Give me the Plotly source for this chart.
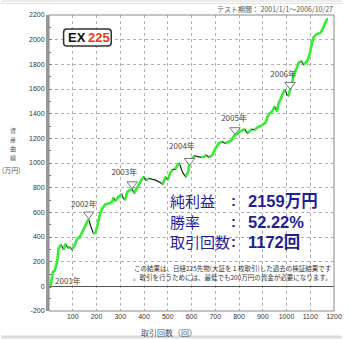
import plotly.graph_objects as go

# ---- data ----
trade_no = [0, 6, 10, 16, 24, 34, 38, 40, 51, 61, 70, 79, 88, 97, 108, 119, 129, 138, 146, 157,
            167, 177, 187, 197, 204, 215, 224, 238, 252, 265, 272, 279, 292, 306, 313, 320, 330,
            340, 350, 358, 367, 377, 388, 399, 408, 422, 436, 449, 463, 477, 483, 490, 500, 510,
            521, 531, 541, 549, 558, 565, 576, 586, 592, 603, 613, 627, 640, 654, 661, 674, 688,
            701, 715, 729, 742, 756, 767, 776, 783, 794, 804, 817, 824, 835, 845, 854, 865, 879,
            892, 906, 913, 919, 930, 940, 950, 960, 967, 977, 988, 995, 1001, 1008, 1015, 1022,
            1031, 1042, 1053, 1063, 1072, 1081, 1090, 1099, 1107, 1113, 1124, 1135, 1144, 1151,
            1162, 1172]
equity = [0, -8, 41, 114, 128, 196, 264, 305, 340, 297, 345, 313, 318, 297, 332, 386, 399, 432, 459, 508,
          545, 481, 427, 440, 494, 590, 630, 666, 671, 684, 720, 690, 725, 747, 712, 700, 766,
          780, 790, 753, 780, 820, 861, 888, 861, 875, 867, 861, 847, 829, 847, 888, 861, 916,
          948, 948, 983, 997, 948, 916, 888, 929, 997, 1038, 1057, 1051, 1046, 1051, 1065, 1046, 1065,
          1119, 1160, 1173, 1160, 1173, 1181, 1209, 1228, 1236, 1255, 1268, 1274, 1241, 1263, 1274, 1268, 1290,
          1301, 1323, 1328, 1372, 1404, 1418, 1458, 1418, 1486, 1527, 1580, 1594, 1554, 1545, 1590, 1640,
          1717, 1771, 1817, 1825, 1798, 1812, 1839, 1893, 1975, 2015, 2042, 2050, 2056, 2083,
          2138, 2172]

year_labels = ["2001年", "2002年", "2003年", "2004年", "2005年", "2006年"]
year_mark_x = [167, 350, 592, 783, 1015]
year_mark_y = [584, 829, 1018, 1268, 1635]
year_label_x = [80, 147, 317, 560, 779, 986]
year_label_y = [34, 663, 916, 1128, 1358, 1717]

x_ticks = [100, 200, 300, 400, 500, 600, 700, 800, 900, 1000, 1100, 1200]
y_ticks = [-200, 0, 200, 400, 600, 800, 1000, 1200, 1400, 1600, 1800, 2000, 2200]

stat_labels = ["純利益", "勝率", "取引回数"]
stat_values = ["2159万円", "52.22%", "1172回"]
y_title_chars = ["資", "産", "曲", "線"]

# ---- layout geometry (pixels) ----
W, H = 350, 339
L, R, T, B = 49, 342, 15, 311


def px(xp):
    return (xp - L) / (R - L)


def py(yp):
    return (B - yp) / (B - T)


fig = go.Figure()

# black equity line
fig.add_trace(go.Scatter(x=trade_no, y=equity, mode="lines",
                         line=dict(color="#222222", width=1.2), hoverinfo="skip"))

# green highlight on rising segments
gx, gy = [], []
for i in range(len(trade_no) - 1):
    if equity[i + 1] > equity[i]:
        if gx and gx[-1] == trade_no[i]:
            gx.append(trade_no[i + 1]); gy.append(equity[i + 1])
        else:
            if gx:
                gx.append(None); gy.append(None)
            gx += [trade_no[i], trade_no[i + 1]]
            gy += [equity[i], equity[i + 1]]
fig.add_trace(go.Scatter(x=gx, y=gy, mode="lines", connectgaps=False,
                         line=dict(color="#33ee33", width=2.6), hoverinfo="skip"))

# year triangles
fig.add_trace(go.Scatter(x=year_mark_x, y=year_mark_y, mode="markers",
                         marker=dict(symbol="triangle-down", size=9, color="white",
                                     line=dict(color="#777777", width=1)),
                         hoverinfo="skip"))
# year labels
fig.add_trace(go.Scatter(x=year_label_x, y=year_label_y, mode="text", text=year_labels,
                         textfont=dict(family="Noto Sans CJK JP", size=8, color="#444444"),
                         hoverinfo="skip"))

fig.update_xaxes(range=[0, 1200], tickvals=x_ticks, ticktext=[str(v) for v in x_ticks],
                 showgrid=True, gridcolor="#b0b0b0", griddash="dot", gridwidth=1,
                 zeroline=False, showline=False, ticks="",
                 tickfont=dict(family="Liberation Sans", size=7, color="#333333"))
fig.update_yaxes(range=[-200, 2200], tickvals=y_ticks, ticktext=[str(v) for v in y_ticks],
                 showgrid=True, gridcolor="#b0b0b0", griddash="dot", gridwidth=1,
                 zeroline=True, zerolinecolor="#555555", zerolinewidth=1,
                 showline=True, linecolor="#999999", linewidth=3,
                 ticks="inside", ticklen=3, tickcolor="#777777",
                 minor=dict(dtick=100, ticks="inside", ticklen=2, tickcolor="#777777"),
                 tickfont=dict(family="Liberation Sans", size=7, color="#333333"))

shapes = [
    dict(type="rect", xref="paper", yref="paper", x0=0, x1=1, y0=0, y1=1,
         line=dict(color="#888888", width=1), layer="above"),
    dict(type="line", xref="paper", yref="paper", x0=px(0), x1=px(W), y0=py(1), y1=py(1),
         line=dict(color="#d8d8d8", width=1)),
    dict(type="line", xref="paper", yref="paper", x0=px(0), x1=px(W), y0=py(3.5), y1=py(3.5),
         line=dict(color="#e4e4e4", width=1)),
    dict(type="line", xref="paper", yref="paper", x0=px(0), x1=px(W), y0=py(337), y1=py(337),
         line=dict(color="#dcdcdc", width=3)),
]
# rounded box for EX225 logo
x0, x1, y0, y1, r = px(64), px(113), py(46), py(29), 0.011
path = (f"M {x0+r},{y0} L {x1-r},{y0} Q {x1},{y0} {x1},{y0+r} L {x1},{y1-r} Q {x1},{y1} {x1-r},{y1} "
        f"L {x0+r},{y1} Q {x0},{y1} {x0},{y1-r} L {x0},{y0+r} Q {x0},{y0} {x0+r},{y0} Z")
shapes.append(dict(type="path", xref="paper", yref="paper", path=path,
                   fillcolor="white", line=dict(color="#333333", width=1.5), layer="above"))

navy = "#1f1f96"
ann = [
    dict(x=px(343), y=py(9), text="テスト期間： 2001/1/1～2006/10/27", xanchor="right",
         font=dict(family="Noto Sans CJK JP", size=7, color="#555555")),
    dict(x=px(10), y=py(170), text="(万円)", xanchor="center",
         font=dict(family="Noto Sans CJK JP", size=7, color="#555555")),
    dict(x=px(172), y=py(332), text="取引回数（回）", xanchor="center",
         font=dict(family="Noto Sans CJK JP", size=8, color="#555555")),
    dict(x=px(88.5), y=py(37.5), text="<b>EX</b>", xanchor="right", borderpad=0,
         font=dict(family="Liberation Sans Narrow, Liberation Sans", size=13, color="#111111")),
    dict(x=px(88.5), y=py(37.5), text="<b>225</b>", xanchor="left", borderpad=0,
         font=dict(family="Liberation Sans Narrow, Liberation Sans", size=13, color="#f23a12")),
    dict(x=px(134), y=py(268), xanchor="left",
         text="この結果は、日経225先物(大証を１枚取引)した過去の検証結果です",
         font=dict(family="Noto Sans CJK JP", size=6.5, color="#333333")),
    dict(x=px(133), y=py(276.5), xanchor="left",
         text="。取引を行うためには、最低でも200万円の資金が必要になります。",
         font=dict(family="Noto Sans CJK JP", size=6.5, color="#333333")),
]
for k, ch in enumerate(y_title_chars):
    ann.append(dict(x=px(12.5), y=py(130 + 9.2 * k), text=ch, xanchor="center", borderpad=0,
                    font=dict(family="Noto Sans CJK JP", size=6, color="#555555")))
rows_y = [200.5, 221.5, 241.5]
for lab, val, ry in zip(stat_labels, stat_values, rows_y):
    ann.append(dict(x=px(171), y=py(ry), text=lab, xanchor="left",
                    font=dict(family="Noto Sans CJK JP", size=15, color=navy)))
    ann.append(dict(x=px(239), y=py(ry), text="<b>:</b>", xanchor="center",
                    font=dict(family="Liberation Sans", size=15, color=navy)))
    ann.append(dict(x=px(252), y=py(ry), text="<b>" + val + "</b>", xanchor="left",
                    font=dict(family="Liberation Sans, Noto Sans CJK JP", size=16.5, color=navy)))
for a in ann:
    a.update(xref="paper", yref="paper", showarrow=False, yanchor="middle")

fig.update_layout(width=W, height=H, margin=dict(l=L, r=W - R, t=T, b=H - B),
                  plot_bgcolor="white", paper_bgcolor="white", showlegend=False,
                  shapes=shapes, annotations=ann)

fig.write_html("out.html")
